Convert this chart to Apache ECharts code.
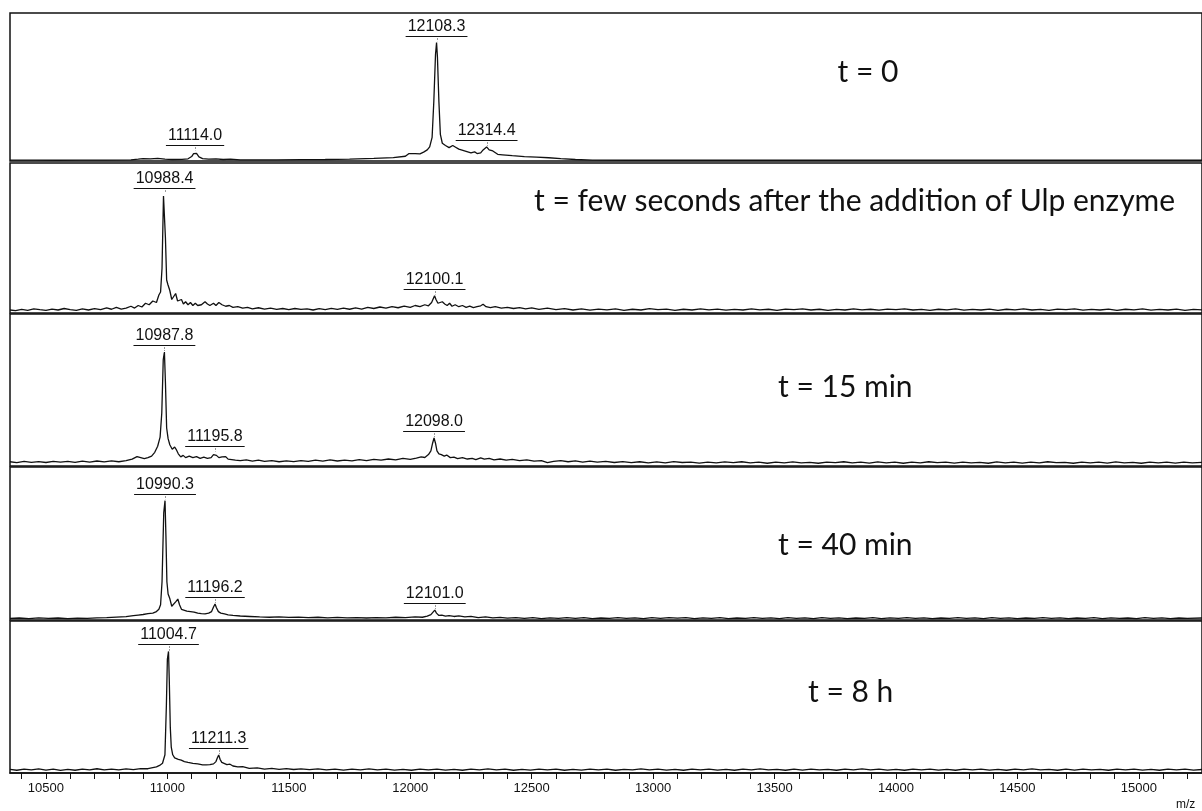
<!DOCTYPE html>
<html><head><meta charset="utf-8">
<script src="https://cdn.jsdelivr.net/npm/echarts@6/dist/echarts.min.js"></script>
<style>html,body{margin:0;padding:0;background:#fff}#c{width:1202px;height:811px}</style>
</head><body><div id="c"></div>
<script>
// ---- data (intensity in % of panel height) ----
const panelTitles = ["t = 0", "t = few seconds after the addition of Ulp enzyme", "t = 15 min", "t = 40 min", "t = 8 h"];
const xTickValues = [10400,10500,10600,10700,10800,10900,11000,11100,11200,11300,11400,11500,11600,11700,11800,11900,12000,12100,12200,12300,12400,12500,12600,12700,12800,12900,13000,13100,13200,13300,13400,13500,13600,13700,13800,13900,14000,14100,14200,14300,14400,14500,14600,14700,14800,14900,15000,15100,15200];
const xLabelValues = [10500,11000,11500,12000,12500,13000,13500,14000,14500,15000];

const spec0 = [[10352,0.6],[10450,0.6],[10550,0.5],[10650,0.6],[10750,0.6],[10850,0.7],[10880,1.2],[10900,1.6],[10930,1.5],[10960,1.8],[10990,1.2],[11020,1.0],[11060,1.1],[11085,1.5],[11100,3.0],[11108,5.0],[11114,6.3],[11120,5.2],[11130,2.8],[11145,1.6],[11170,1.2],[11200,1.4],[11230,1.0],[11260,1.2],[11300,0.8],[11350,0.7],[11450,0.8],[11550,0.9],[11650,1.0],[11750,1.3],[11850,1.8],[11930,2.3],[11980,3.2],[11995,5.0],[12020,5.0],[12040,4.8],[12055,6.0],[12070,7.5],[12080,9.5],[12090,16],[12097,40],[12104,72],[12108.3,80],[12112,70],[12118,40],[12124,18],[12132,12],[12145,10.5],[12160,9],[12175,10.5],[12185,9.5],[12200,8],[12230,6.5],[12250,5.5],[12265,6.2],[12275,5],[12290,5.5],[12300,7.5],[12314.4,9.5],[12325,7.5],[12340,6.8],[12360,4.5],[12380,4.2],[12420,3.6],[12470,3.0],[12520,2.6],[12570,2.2],[12620,1.6],[12680,1.0],[12750,0.6],[12900,0.5],[13200,0.5],[13600,0.5],[14000,0.5],[14500,0.5],[15000,0.5],[15260,0.5]];

const spec1 = [[10352,2.0],[10375,1.6],[10400,2.4],[10425,1.8],[10450,2.8],[10475,2.2],[10500,1.7],[10525,2.6],[10550,2.0],[10575,3.0],[10600,2.2],[10625,1.8],[10650,2.7],[10675,2.0],[10700,2.9],[10725,2.2],[10750,3.4],[10770,2.5],[10790,3.8],[10810,2.6],[10830,3.2],[10850,4.5],[10865,3.3],[10880,5.0],[10895,4.0],[10910,6.5],[10925,5.5],[10940,8.0],[10955,7.0],[10965,12],[10972,14],[10978,30],[10984,78],[10988.4,79],[10992,50],[10997,22],[11002,19],[11010,15],[11018,9],[11026,10],[11034,13],[11042,8],[11050,7],[11058,9],[11066,6],[11075,7.5],[11085,5.5],[11095,7],[11105,5],[11115,6.5],[11125,5],[11140,5.5],[11155,7.5],[11165,6],[11175,5],[11190,6.5],[11200,5],[11212,7],[11225,5.5],[11240,4.5],[11255,5],[11270,3.8],[11290,4.2],[11310,3.2],[11330,3.8],[11350,2.8],[11375,3.5],[11400,2.6],[11425,3.2],[11450,2.4],[11475,3.0],[11500,2.2],[11525,3.0],[11550,2.4],[11575,2.8],[11600,2.0],[11625,2.9],[11650,2.2],[11675,3.1],[11700,2.4],[11725,3.2],[11750,2.5],[11775,3.4],[11800,2.6],[11825,3.8],[11850,3.0],[11875,4.0],[11900,3.2],[11925,4.2],[11950,3.5],[11975,4.6],[12000,3.8],[12020,5.0],[12040,4.2],[12060,5.5],[12075,4.8],[12088,7],[12096,10],[12100.1,11.5],[12106,9],[12114,6.5],[12122,5.5],[12132,7.5],[12142,6],[12152,5],[12162,6.5],[12172,4.5],[12185,5.5],[12200,4.2],[12215,5],[12230,3.8],[12245,4.6],[12260,3.6],[12275,4.2],[12290,4.8],[12300,5.8],[12312,4.2],[12330,3.6],[12350,4.2],[12375,3.2],[12400,3.8],[12425,3.0],[12450,3.6],[12475,2.8],[12500,3.4],[12530,2.4],[12565,3.2],[12600,2.2],[12635,2.9],[12670,2.0],[12705,2.7],[12740,1.9],[12775,2.6],[12810,2.1],[12845,2.8],[12880,1.8],[12915,2.5],[12950,2.0],[12985,2.9],[13020,2.2],[13055,2.6],[13090,1.8],[13125,2.5],[13160,2.0],[13195,2.8],[13230,2.1],[13265,2.6],[13300,1.9],[13335,2.4],[13370,2.0],[13405,2.7],[13440,2.1],[13475,2.5],[13510,1.8],[13545,2.6],[13580,2.2],[13615,2.8],[13650,2.0],[13685,2.5],[13720,1.8],[13755,2.4],[13790,2.0],[13825,2.7],[13860,2.1],[13895,2.5],[13930,1.9],[13965,2.6],[14000,2.2],[14035,2.8],[14070,2.0],[14105,2.4],[14140,1.8],[14175,2.5],[14210,2.1],[14245,2.7],[14280,1.9],[14315,2.4],[14350,2.0],[14385,2.6],[14420,1.8],[14455,2.5],[14490,2.1],[14525,2.8],[14560,2.0],[14595,2.4],[14630,1.8],[14665,2.6],[14700,2.2],[14735,2.7],[14770,1.9],[14805,2.4],[14840,2.0],[14875,2.6],[14910,1.8],[14945,2.5],[14980,2.1],[15015,2.7],[15050,1.9],[15085,2.4],[15120,2.0],[15155,2.6],[15190,1.8],[15225,2.4],[15260,2.1]];

const spec2 = [[10352,2.8],[10380,2.2],[10410,3.0],[10440,2.4],[10470,2.9],[10500,2.3],[10530,3.1],[10560,2.5],[10590,3.0],[10620,2.4],[10650,3.2],[10680,2.6],[10710,3.3],[10740,2.7],[10770,3.4],[10800,2.8],[10830,3.5],[10855,4.5],[10875,6.2],[10890,5.5],[10905,4.8],[10920,5.5],[10935,6.5],[10948,9],[10960,13],[10970,19],[10977,35],[10983,70],[10987.8,75],[10992,55],[10997,25],[11003,18],[11010,14],[11020,11],[11030,12.5],[11036,11],[11045,8],[11055,6],[11065,7],[11075,5.5],[11090,6.5],[11105,5.5],[11120,6.2],[11135,5.0],[11150,5.8],[11165,5.0],[11180,5.5],[11190,7.5],[11195.8,8.7],[11202,7],[11212,5.5],[11225,6],[11240,6.2],[11250,4.5],[11265,4.2],[11280,3.8],[11300,3.5],[11325,4.0],[11350,3.2],[11375,3.8],[11400,3.0],[11430,3.6],[11460,2.8],[11490,3.4],[11520,2.9],[11550,3.6],[11580,3.0],[11610,3.8],[11640,3.2],[11670,4.0],[11700,3.3],[11730,3.9],[11760,3.4],[11790,4.2],[11820,3.5],[11850,4.4],[11880,3.8],[11910,4.6],[11940,4.0],[11970,5.0],[12000,4.4],[12025,5.2],[12045,6.0],[12060,5.6],[12075,7.5],[12085,10],[12092,15],[12098,18.4],[12104,15],[12110,10],[12118,8],[12128,7.5],[12140,6.5],[12150,7.2],[12165,5.5],[12180,5.8],[12195,4.8],[12215,5.5],[12235,4.6],[12255,5.0],[12270,4.2],[12290,5.4],[12305,4.5],[12325,5.0],[12345,4.0],[12370,4.6],[12395,3.8],[12420,4.3],[12450,3.5],[12480,4.0],[12510,3.2],[12540,3.6],[12565,2.2],[12590,3.0],[12620,3.6],[12650,2.8],[12680,3.4],[12710,2.6],[12740,3.2],[12770,2.5],[12805,3.0],[12840,2.3],[12875,2.9],[12910,2.2],[12945,2.8],[12980,2.0],[13015,2.7],[13050,2.1],[13085,2.9],[13120,2.3],[13155,2.6],[13190,1.9],[13225,2.5],[13260,2.0],[13295,2.7],[13330,2.2],[13365,2.8],[13400,2.0],[13435,2.5],[13470,1.8],[13505,2.6],[13540,2.1],[13575,2.7],[13610,2.0],[13645,2.4],[13680,1.8],[13715,2.6],[13750,2.2],[13785,2.8],[13820,2.0],[13855,2.5],[13890,1.9],[13925,2.7],[13960,2.1],[13995,2.5],[14030,1.8],[14065,2.6],[14100,2.0],[14135,2.8],[14170,2.2],[14205,2.5],[14240,1.9],[14275,2.6],[14310,2.0],[14345,2.4],[14380,1.8],[14415,2.7],[14450,2.1],[14485,2.5],[14520,1.9],[14555,2.6],[14590,2.0],[14625,2.8],[14660,2.2],[14695,2.4],[14730,1.8],[14765,2.6],[14800,2.0],[14835,2.5],[14870,1.9],[14905,2.7],[14940,2.1],[14975,2.4],[15010,1.8],[15045,2.6],[15080,2.0],[15115,2.5],[15150,1.9],[15185,2.6],[15220,2.0],[15260,2.4]];

const spec3 = [[10352,1.0],[10390,1.3],[10430,0.9],[10470,1.4],[10510,1.0],[10550,1.3],[10590,0.9],[10630,1.2],[10670,1.0],[10710,1.4],[10750,1.6],[10790,1.9],[10830,2.2],[10860,2.8],[10880,3.2],[10900,3.6],[10920,4.2],[10940,4.5],[10955,5.5],[10965,7],[10972,10],[10978,25],[10985,70],[10990.3,78],[10994,55],[10998,25],[11003,17],[11010,14],[11018,9],[11026,9.5],[11035,12],[11043,13.7],[11050,10],[11058,7],[11066,6.5],[11080,5.8],[11095,5.5],[11110,5.2],[11125,4.5],[11140,4.2],[11155,4.0],[11170,4.5],[11182,5.5],[11190,8.5],[11196.2,10.5],[11202,8],[11210,5.5],[11220,4.5],[11235,4.0],[11250,3.4],[11270,3.0],[11300,2.6],[11340,2.3],[11380,2.0],[11420,1.8],[11460,2.0],[11500,1.7],[11540,1.9],[11580,1.5],[11620,1.8],[11660,1.4],[11700,1.7],[11740,1.4],[11780,1.6],[11820,1.3],[11860,1.6],[11900,1.4],[11940,1.8],[11980,1.5],[12020,2.0],[12050,1.8],[12070,2.5],[12085,3.5],[12093,5],[12101,6.5],[12108,4.5],[12118,3.0],[12130,3.2],[12145,2.5],[12160,2.9],[12180,2.3],[12200,2.7],[12225,2.0],[12250,2.4],[12280,1.6],[12310,2.0],[12340,1.4],[12370,1.7],[12400,1.2],[12435,1.6],[12470,1.0],[12505,1.5],[12540,0.9],[12575,1.4],[12610,1.0],[12645,1.6],[12680,1.1],[12715,1.5],[12750,0.9],[12785,1.3],[12820,1.0],[12855,1.6],[12890,1.1],[12925,1.4],[12960,0.9],[12995,1.5],[13030,1.0],[13065,1.6],[13100,1.2],[13135,1.5],[13170,0.9],[13205,1.4],[13240,1.0],[13275,1.5],[13310,0.9],[13345,1.3],[13380,1.0],[13415,1.6],[13450,1.1],[13485,1.4],[13520,0.9],[13555,1.5],[13590,1.0],[13625,1.4],[13660,0.9],[13695,1.5],[13730,1.1],[13765,1.4],[13800,0.9],[13835,1.3],[13870,1.0],[13905,1.5],[13940,0.9],[13975,1.4],[14010,1.0],[14045,1.5],[14080,1.1],[14115,1.4],[14150,0.9],[14185,1.3],[14220,1.0],[14255,1.6],[14290,1.1],[14325,1.4],[14360,0.9],[14395,1.5],[14430,1.0],[14465,1.4],[14500,0.9],[14535,1.3],[14570,1.0],[14605,1.5],[14640,1.1],[14675,1.4],[14710,0.9],[14745,1.3],[14780,1.0],[14815,1.5],[14850,0.9],[14885,1.4],[14920,1.0],[14955,1.3],[14990,0.9],[15025,1.5],[15060,1.0],[15095,1.4],[15130,0.9],[15165,1.3],[15200,1.0],[15260,1.3]];

const spec4 = [[10352,2.4],[10380,1.8],[10410,2.6],[10440,2.0],[10470,2.7],[10500,1.9],[10530,2.5],[10560,1.7],[10590,2.4],[10620,1.8],[10650,2.6],[10680,2.0],[10710,2.8],[10740,2.1],[10770,2.6],[10800,2.0],[10830,2.7],[10860,2.2],[10890,2.9],[10920,2.8],[10940,3.6],[10955,4.0],[10968,5.0],[10980,6.4],[10990,12],[10996,45],[11000,75],[11004.7,80],[11008,60],[11012,30],[11016,17],[11022,12],[11030,10],[11036,9.6],[11045,9],[11057,8.5],[11070,7.5],[11085,7],[11105,6.4],[11125,6.0],[11145,5.4],[11160,5.3],[11175,5.5],[11190,6.0],[11200,7.5],[11206,10],[11211.3,11.8],[11217,9],[11224,7],[11232,6.4],[11245,5.5],[11258,5.8],[11270,4.6],[11290,4.0],[11310,4.2],[11337,3.0],[11370,3.4],[11400,2.6],[11430,3.0],[11460,2.4],[11490,2.9],[11520,2.3],[11550,2.7],[11585,2.2],[11620,2.7],[11655,2.0],[11690,2.6],[11725,1.9],[11760,2.5],[11795,2.0],[11830,2.7],[11865,2.1],[11900,2.6],[11935,1.9],[11970,2.4],[12005,1.8],[12040,2.5],[12075,2.0],[12110,2.6],[12145,1.9],[12180,2.4],[12215,1.8],[12250,2.5],[12285,2.0],[12320,2.7],[12355,2.1],[12390,2.5],[12425,1.8],[12460,2.4],[12495,1.9],[12530,2.6],[12565,2.0],[12600,2.5],[12635,1.8],[12670,2.4],[12705,1.9],[12740,2.6],[12775,2.0],[12810,2.5],[12845,1.8],[12880,2.4],[12915,2.0],[12950,2.7],[12985,2.1],[13020,2.5],[13055,1.9],[13090,2.4],[13125,1.8],[13160,2.5],[13195,2.0],[13230,2.6],[13265,1.9],[13300,2.4],[13335,1.8],[13370,2.5],[13405,2.1],[13440,2.7],[13475,2.0],[13510,2.4],[13545,1.8],[13580,2.5],[13615,1.9],[13650,2.6],[13685,2.0],[13720,2.4],[13755,1.8],[13790,2.5],[13825,2.0],[13860,2.7],[13895,2.1],[13930,2.5],[13965,1.9],[14000,2.4],[14035,1.8],[14070,2.6],[14105,2.0],[14140,2.5],[14175,1.9],[14210,2.4],[14245,1.8],[14280,2.5],[14315,2.0],[14350,2.6],[14385,1.9],[14420,2.4],[14455,1.8],[14490,2.5],[14525,2.1],[14560,2.7],[14595,2.0],[14630,2.4],[14665,1.8],[14700,2.5],[14735,1.9],[14770,2.6],[14805,2.0],[14840,2.4],[14875,1.8],[14910,2.5],[14945,2.0],[14980,2.6],[15015,1.9],[15050,2.4],[15085,1.8],[15120,2.5],[15155,2.0],[15190,2.6],[15225,1.9],[15260,2.3]];

const peaks0 = [[11114.0,6.3],[12108.3,80],[12314.4,9.5]];
const peaks1 = [[10988.4,79],[12100.1,11.5]];
const peaks2 = [[10987.8,75],[11195.8,8.7],[12098.0,18.4]];
const peaks3 = [[10990.3,78],[11196.2,10.5],[12101.0,6.5]];
const peaks4 = [[11004.7,80],[11211.3,11.8]];

const spectra = [spec0, spec1, spec2, spec3, spec4];
const peaks = [peaks0, peaks1, peaks2, peaks3, peaks4];

// ---- layout ----
const X_MIN = 10352, X_MAX = 15260;
const panelBoxes = [[13,148],[163,150],[314,152],[467,153],[621,152]];
const titlePos = [
  {x:868, y:72, align:'center'},
  {x:534, y:201, align:'left'},
  {x:778, y:387, align:'left'},
  {x:778, y:545, align:'left'},
  {x:808, y:692, align:'left'}
];
const LABEL_FONT = '16px "Liberation Sans", Arial, sans-serif';
const TITLE_FONT = '30px "Lato", "Open Sans", sans-serif';

const mctx = document.createElement('canvas').getContext('2d');
mctx.font = LABEL_FONT;
function textW(t){ return mctx.measureText(t).width; }

function peakRender(params, api){
  const mz = api.value(0), h = api.value(1);
  const p = api.coord([mz, h]);
  const txt = mz.toFixed(1);
  const w = textW(txt);
  const uy = Math.round(p[1] - 7) + 0.5;
  return {type:'group', children:[
    {type:'text', x:p[0], y:uy-2, style:{text:txt, font:LABEL_FONT, fill:'#111', align:'center', verticalAlign:'bottom'}},
    {type:'line', shape:{x1:p[0]-w/2-2, y1:uy, x2:p[0]+w/2+2, y2:uy}, style:{stroke:'#111', lineWidth:1}},
    {type:'line', shape:{x1:Math.round(p[0])+0.5, y1:uy+2, x2:Math.round(p[0])+0.5, y2:p[1]-1}, style:{stroke:'#333', lineWidth:1, lineDash:[1,2]}}
  ]};
}

const grid = [], xAxis = [], yAxis = [], series = [];
panelBoxes.forEach((b, i) => {
  grid.push({left:10, top:b[0], width:1196, height:b[1], show:true, borderColor:'#111', borderWidth:1.5, backgroundColor:'transparent', containLabel:false});
  const last = i === panelBoxes.length - 1;
  xAxis.push({type:'value', gridIndex:i, min:X_MIN, max:X_MAX,
    axisLine:{show:last, onZero:false, lineStyle:{color:'#111', width:1.5}},
    axisTick:{show:last, length:6, customValues:xTickValues, lineStyle:{color:'#111', width:1}},
    axisLabel:{show:last, customValues:xLabelValues, formatter: v => String(v), color:'#111', fontSize:13, fontFamily:'"Liberation Sans", Arial, sans-serif', margin:9},
    splitLine:{show:false}});
  yAxis.push({type:'value', gridIndex:i, min:0, max:100, show:false});
  series.push({type:'line', xAxisIndex:i, yAxisIndex:i, data:spectra[i], showSymbol:false, symbol:'none',
    lineStyle:{color:'#111', width:1.3}, animation:false, silent:true, z:2});
  series.push({type:'custom', xAxisIndex:i, yAxisIndex:i, data:peaks[i], renderItem:peakRender, animation:false, silent:true, clip:false, z:3});
});

const graphic = panelTitles.map((t, i) => ({
  type:'text', x:titlePos[i].x, y:titlePos[i].y,
  style:{text:t, font:TITLE_FONT, fill:'#111', align:titlePos[i].align, verticalAlign:'middle'}
}));
graphic.push({type:'text', x:1176, y:799, style:{text:'m/z', font:'12px "Liberation Sans", Arial, sans-serif', fill:'#111'}});

const chart = echarts.init(document.getElementById('c'), null, {renderer:'canvas'});
chart.setOption({backgroundColor:'#fff', animation:false, grid, xAxis, yAxis, series, graphic});
</script>
</body></html>
